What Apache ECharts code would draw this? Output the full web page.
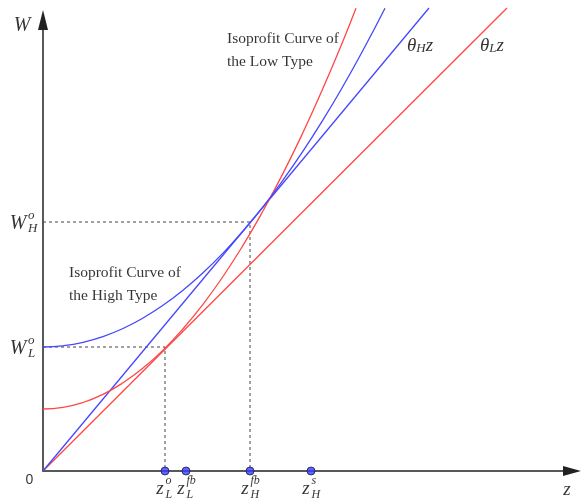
<!DOCTYPE html>
<html>
<head>
<meta charset="utf-8">
<title>Isoprofit curves</title>
<script src="https://cdn.jsdelivr.net/npm/echarts@6/dist/echarts.min.js"></script>
<style>
html, body { margin: 0; padding: 0; background: #fff; }
#main { width: 581px; height: 500px; }
</style>
</head>
<body>
<div id="main"></div>
<script>
// values (z, W)
var thetaL = [[0, 0], [464, 463]];
var thetaH = [[0, 0], [386, 463]];
var highCurve = [[0, 124], [20, 125.2], [40, 128.6], [60, 134.4], [80, 142.5], [100, 153], [120, 165.7],
    [140, 180.8], [160, 198.2], [180, 217.9], [200, 239.9], [220, 264.2], [240, 290.9], [260, 319.8],
    [280, 351.1], [300, 384.7], [320, 420.7], [342, 462.8]];
var lowCurve = [[0, 62], [20, 63.6], [40, 68.5], [60, 76.7], [80, 88.2], [100, 102.9], [120, 120.9],
    [140, 142.2], [160, 166.7], [180, 194.5], [200, 225.6], [220, 260], [240, 297.6], [260, 338.5],
    [280, 382.7], [300, 430.1], [313, 462.7]];
var zTicks = [122, 143, 207, 268];
var zSup = ['o', 'fb', 'fb', 's'];
var zSub = ['L', 'L', 'H', 'H'];
var wTicks = [124, 249];
var wSup = ['o', 'o'];
var wSub = ['L', 'H'];
var zMax = 529, wMax = 451;

var RED = '#ff4646', BLUE = '#4646ff';
var SERIF = '"Liberation Serif", "Times New Roman", serif';

function note(at, text, style) {
    var label = { show: true, position: 'inside', color: '#000', fontFamily: SERIF, formatter: text };
    for (var k in style) label[k] = style[k];
    return { value: at, label: label };
}
function italic(size, align, offset) {
    return { fontSize: size, fontStyle: 'italic', align: align, verticalAlign: 'middle', offset: offset };
}
function line(data, color, extra) {
    var s = {
        type: 'line', data: data, symbol: 'none', clip: false, silent: true,
        lineStyle: { color: color, width: 1.3 }
    };
    for (var k in extra) s[k] = extra[k];
    return s;
}

var notes = [];
for (var i = 0; i < zTicks.length; i++) {
    notes.push(note([zTicks[i], 0], 'z', italic(19, 'center', [-5, 18])));
    notes.push(note([zTicks[i], 0], zSup[i], italic(12, 'left', [0.5, 10])));
    notes.push(note([zTicks[i], 0], zSub[i], italic(12, 'left', [0.5, 23.5])));
}
for (var j = 0; j < wTicks.length; j++) {
    notes.push(note([0, wTicks[j]], 'W', italic(20, 'center', [-25, 2])));
    notes.push(note([0, wTicks[j]], wSup[j], italic(13, 'left', [-15, -6.5])));
    notes.push(note([0, wTicks[j]], wSub[j], italic(13, 'left', [-15, 6.5])));
}
notes.push(note([0, wMax], 'W', italic(20, 'center', [-21, 6])));
notes.push(note([zMax, 0], 'z', italic(19, 'center', [-5, 19])));
notes.push(note([0, 0], '0', { fontSize: 14, fontFamily: '"Liberation Sans", Arial, sans-serif', align: 'center', verticalAlign: 'middle', offset: [-13.5, 9] }));
notes.push(note([184, 443.5], 'Isoprofit Curve of\nthe Low Type', { fontSize: 15.5, lineHeight: 23, align: 'left', verticalAlign: 'top' }));
notes.push(note([26, 209.5], 'Isoprofit Curve of\nthe High Type', { fontSize: 15.5, lineHeight: 23, align: 'left', verticalAlign: 'top' }));

var mathRich = {
    m: { fontSize: 19, fontStyle: 'italic', fontFamily: SERIF, color: '#000', lineHeight: 20, verticalAlign: 'bottom' },
    s: { fontSize: 13, fontStyle: 'italic', fontFamily: SERIF, color: '#000', lineHeight: 12, verticalAlign: 'bottom' }
};
notes.push(note([364, 425.5], '{m|θ}{s|H}{m|z}', { align: 'left', verticalAlign: 'middle', rich: mathRich }));
notes.push(note([437, 425.5], '{m|θ}{s|L}{m|z}', { align: 'left', verticalAlign: 'middle', rich: mathRich }));

var dashStyle = { color: '#444', width: 1, type: [3, 3] };
var guideL = [[0, wTicks[0]], [zTicks[0], wTicks[0]], [zTicks[0], 0]];
var guideH = [[0, wTicks[1]], [zTicks[2], wTicks[1]], [zTicks[2], 0]];

function axis(size) {
    return {
        type: 'value', min: 0,
        axisLine: { show: true, onZero: false, symbol: ['none', 'triangle'], symbolSize: size,
            lineStyle: { color: '#222', width: 1.5 } },
        axisTick: { show: false }, axisLabel: { show: false }, splitLine: { show: false }
    };
}
var xAxis = axis([10, 18]); xAxis.max = zMax;
var yAxis = axis([10, 20]); yAxis.max = wMax;

var chart = echarts.init(document.getElementById('main'), null, { renderer: 'canvas' });
chart.setOption({
    animation: false,
    grid: { left: 43, right: 9, top: 20, bottom: 29 },
    xAxis: xAxis,
    yAxis: yAxis,
    series: [
        line(guideL, '#444', { lineStyle: dashStyle }),
        line(guideH, '#444', { lineStyle: dashStyle }),
        line(thetaL, RED),
        line(thetaH, BLUE),
        line(lowCurve, RED, { smooth: true }),
        line(highCurve, BLUE, { smooth: true }),
        {
            type: 'scatter', silent: true, clip: false, z: 4, symbolSize: 8,
            itemStyle: { color: '#3c3cff', borderColor: '#1a1a55', borderWidth: 1 },
            data: zTicks.map(function (z) { return [z, 0]; })
        },
        {
            type: 'scatter', silent: true, clip: false, z: 5, symbolSize: 1,
            itemStyle: { color: 'rgba(0,0,0,0)' },
            data: notes
        }
    ]
});
</script>
</body>
</html>
